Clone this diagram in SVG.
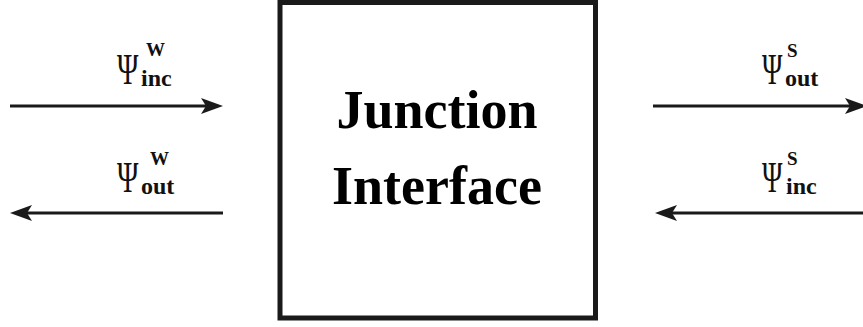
<svg xmlns="http://www.w3.org/2000/svg" width="863" height="327" viewBox="0 0 863 327">
<style>
.box{fill:#fff;stroke:#1a1a1a;stroke-width:5}
.title{font-family:"Liberation Serif","Times New Roman",serif;font-weight:bold;font-size:54px;fill:#000;text-anchor:middle}
.psi{font-family:"Liberation Serif","Times New Roman",serif;font-size:44px;fill:#111}
.sup{font-family:"Liberation Serif","Times New Roman",serif;font-weight:bold;font-size:19px;fill:#111}
.sub{font-family:"Liberation Serif","Times New Roman",serif;font-weight:bold;font-size:24px;fill:#111}
.conn{stroke:#1a1a1a;stroke-width:3;fill:none;marker-end:url(#ah)}
</style>
<defs>
<marker id="ah" markerUnits="userSpaceOnUse" markerWidth="24" markerHeight="18" refX="11" refY="8" orient="auto" overflow="visible">
<path d="M0,0 L22,8 L0,16 L5,8 Z" fill="#1a1a1a"/>
</marker>
</defs>
<rect width="863" height="327" fill="#fff"/>
<g id="junction">
<rect class="box" x="280" y="2.5" width="315.5" height="315.5"/>
<text class="title" x="437" y="128">Junction</text>
<text class="title" x="437" y="204">Interface</text>
</g>
<g id="connectors">
<path class="conn" d="M10,106 L212,106"/>
<path class="conn" d="M223,213 L21,213"/>
<path class="conn" d="M653,106 L856,106"/>
<path class="conn" d="M875,213 L666,213"/>
</g>
<g id="label-w-inc">
<text class="psi" transform="translate(117,84) scale(0.66,1)">Ψ</text>
<text class="sup" x="146" y="56">W</text>
<text class="sub" x="141" y="86">inc</text>
</g>
<g id="label-w-out">
<text class="psi" transform="translate(117,192) scale(0.66,1)">Ψ</text>
<text class="sup" x="150" y="165">W</text>
<text class="sub" x="141" y="194">out</text>
</g>
<g id="label-s-out">
<text class="psi" transform="translate(762,84) scale(0.63,1)">Ψ</text>
<text class="sup" x="787" y="57">S</text>
<text class="sub" x="785" y="86">out</text>
</g>
<g id="label-s-inc">
<text class="psi" transform="translate(762,192) scale(0.63,1)">Ψ</text>
<text class="sup" x="787" y="165">S</text>
<text class="sub" x="786" y="194">inc</text>
</g>
</svg>
